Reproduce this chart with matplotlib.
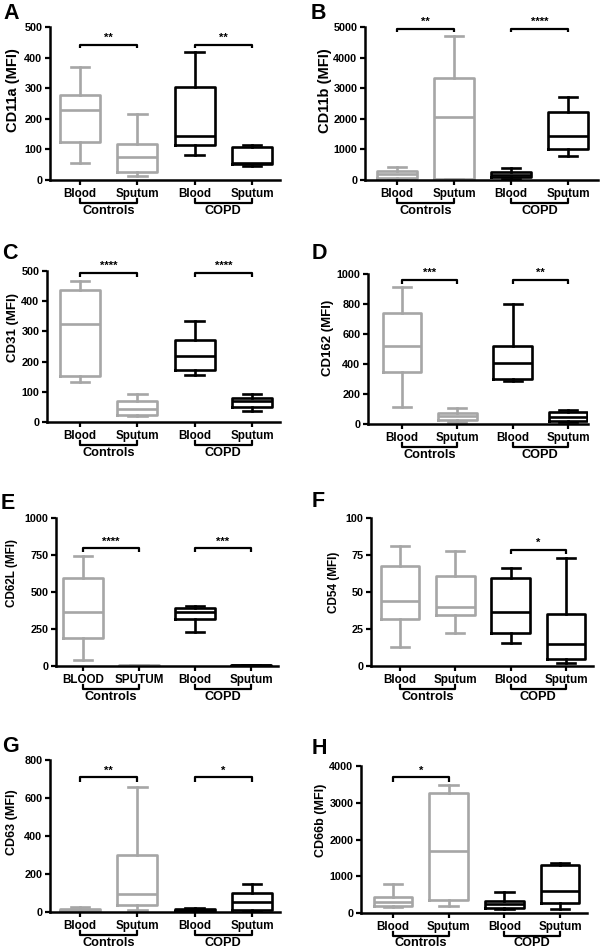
import matplotlib
matplotlib.use("Agg")
import matplotlib.pyplot as plt
from matplotlib import transforms

plt.rcParams["font.family"] = ["Liberation Sans", "DejaVu Sans"]
plt.rcParams["font.weight"] = "bold"

GREY, BLACK = "#a6a6a6", "#000000"
TICKS = ["Blood", "Sputum", "Blood", "Sputum"]
TICKS_E = ["BLOOD", "SPUTUM", "Blood", "Sputum"]
GROUPS = ["Controls", "COPD"]

# five-number summaries: whisker low, Q1, median, Q3, whisker high
# box order: Controls blood, Controls sputum, COPD blood, COPD sputum
cd11a = [[55, 123, 230, 277, 368], [14, 26, 74, 117, 215], [83, 115, 144, 303, 418], [47, 52, 56, 108, 113]]
cd11b = [[33, 76, 196, 305, 420], [20, 25, 2063, 3319, 4694], [30, 87, 175, 262, 404], [786, 1026, 1452, 2216, 2707]]
cd31 = [[131, 153, 326, 436, 466], [19, 24, 44, 71, 92], [156, 173, 219, 271, 334], [35, 49, 68, 79, 93]]
cd162 = [[116, 350, 521, 739, 911], [16, 27, 53, 73, 105], [290, 300, 405, 523, 802], [11, 22, 49, 78, 94]]
cd62l = [[43, 186, 367, 593, 744], [1, 2, 3, 4, 5], [228, 315, 365, 395, 405], [2, 3, 4, 5, 6]]
cd54 = [[12.9, 31.7, 44, 67.6, 81], [22, 34.4, 40, 61, 78], [15.8, 22.4, 36.2, 59.5, 66], [2, 4.5, 15.2, 35, 73.3]]
cd63 = [[2, 5, 10, 16, 26], [9, 37, 95, 300, 660], [2, 5, 9, 14, 19], [5, 12, 51, 100, 145]]
cd66b = [[154, 199, 290, 443, 796], [199, 362, 1692, 3258, 3475], [109, 145, 253, 326, 561], [109, 271, 588, 1294, 1357]]

# significance brackets: (box a, box b, bracket level, end drop, stars)
sig_a = [(1, 2, 442, 431, "**"), (3, 4, 442, 431, "**")]
sig_b = [(1, 2, 4945, 4825, "**"), (3, 4, 4945, 4825, "****")]
sig_c = [(1, 2, 495, 480, "****"), (3, 4, 495, 480, "****")]
sig_d = [(1, 2, 962, 933, "***"), (3, 4, 962, 933, "**")]
sig_e = [(1, 2, 796, 767, "****"), (3, 4, 796, 767, "***")]
sig_f = [(3, 4, 78.7, 75.8, "*")]
sig_g = [(1, 2, 708, 686, "**"), (3, 4, 708, 686, "*")]
sig_h = [(1, 2, 3692, 3575, "*")]

panels = [
    # letter, ylabel, stats, ymax, yticks, sigs, xlabels, pixel box (left, pos1, pos4, right, top, bottom), letter xy, ylabel xy, ylabel size
    ("A", "CD11a (MFI)", cd11a, 500, range(0, 501, 100), sig_a, TICKS, (50, 80, 252, 280, 27, 180), (3, 3), (13, 90), 10.5),
    ("B", "CD11b (MFI)", cd11b, 5000, range(0, 5001, 1000), sig_b, TICKS, (365, 397, 568, 598, 27, 180), (311, 3), (325, 91), 10.5),
    ("C", "CD31 (MFI)", cd31, 500, range(0, 501, 100), sig_c, TICKS, (47, 80, 252, 280, 271, 422), (2, 243), (13, 328), 9.5),
    ("D", "CD162 (MFI)", cd162, 1000, range(0, 1001, 200), sig_d, TICKS, (368, 402, 568, 588, 274, 424), (312, 243), (328, 338), 9.5),
    ("E", "CD62L (MFI)", cd62l, 1000, range(0, 1001, 250), sig_e, TICKS_E, (56, 83, 251, 278, 518, 666), (1, 493), (12, 573), 8.5),
    ("F", "CD54 (MFI)", cd54, 100, range(0, 101, 25), sig_f, TICKS, (371, 400, 566, 593, 518, 666), (312, 491), (334, 582), 8.5),
    ("G", "CD63 (MFI)", cd63, 800, range(0, 801, 200), sig_g, TICKS, (50, 80, 252, 280, 760, 912), (2, 736), (12, 822), 9),
    ("H", "CD66b (MFI)", cd66b, 4000, range(0, 4001, 1000), sig_h, TICKS, (361, 393, 560, 587, 766, 913), (312, 738), (321, 820), 9),
]

W, H = 600, 950
fig = plt.figure(figsize=(6, 9.5), dpi=100)
fig.patch.set_facecolor("white")

for letter, ylab, stats, ymax, yticks, sigs, xlabels, box, lxy, yxy, ysize in panels:
    left, p1, p4, right, top, bottom = box
    unit = (p4 - p1) / 3
    ax = fig.add_axes([left / W, 1 - bottom / H, (right - left) / W, (bottom - top) / H])
    ax.set_xlim(1 - (p1 - left) / unit, 4 + (right - p4) / unit)
    ax.set_ylim(0, ymax)

    bx = [dict(whislo=s[0], q1=s[1], med=s[2], q3=s[3], whishi=s[4], fliers=[]) for s in stats]
    for i, st in enumerate(bx):
        c = GREY if i < 2 else BLACK
        lw = 1.9
        ax.bxp([st], positions=[i + 1], widths=0.7, capwidths=0.33, showfliers=False,
               boxprops=dict(color=c, lw=lw), medianprops=dict(color=c, lw=lw),
               whiskerprops=dict(color=c, lw=lw), capprops=dict(color=c, lw=lw),
               manage_ticks=False)

    for a, b, lev, drop, stars in sigs:
        ax.plot([a, a, b, b], [drop, lev, lev, drop], color=BLACK, lw=1.6, clip_on=False,
                solid_capstyle="butt")
        ax.text((a + b) / 2, lev + ymax * 0.012, stars, ha="center", va="bottom", fontsize=8)

    # group brackets under the tick labels
    h = bottom - top
    tr = transforms.blended_transform_factory(ax.transData, ax.transAxes)
    for g, (a, b) in enumerate([(1, 2), (3, 4)]):
        ax.plot([a, a, b, b], [-18.5 / h, -22.5 / h, -22.5 / h, -18.5 / h], color=BLACK, lw=1.6,
                transform=tr, clip_on=False)
        ax.text((a + b) / 2, -24.5 / h, GROUPS[g], transform=tr, ha="center", va="top", fontsize=9.2)

    ax.set_xticks([1, 2, 3, 4])
    ax.set_xticklabels(xlabels, fontsize=8.4, fontweight="bold")
    ax.set_yticks(list(yticks))
    ax.set_yticklabels([str(v) for v in yticks], fontsize=7.8, fontweight="bold")
    ax.tick_params(direction="out", length=3.5, width=1.6, pad=2)
    for s in ["top", "right"]:
        ax.spines[s].set_visible(False)
    for s in ["left", "bottom"]:
        ax.spines[s].set_linewidth(1.8)

    fig.text(lxy[0] / W, 1 - lxy[1] / H, letter, ha="left", va="top", fontsize=15.5, fontweight="bold")
    fig.text(yxy[0] / W, 1 - yxy[1] / H, ylab, rotation=90, ha="center", va="center",
             fontsize=ysize, fontweight="bold")

fig.savefig("out.png", dpi=100, facecolor="white")
